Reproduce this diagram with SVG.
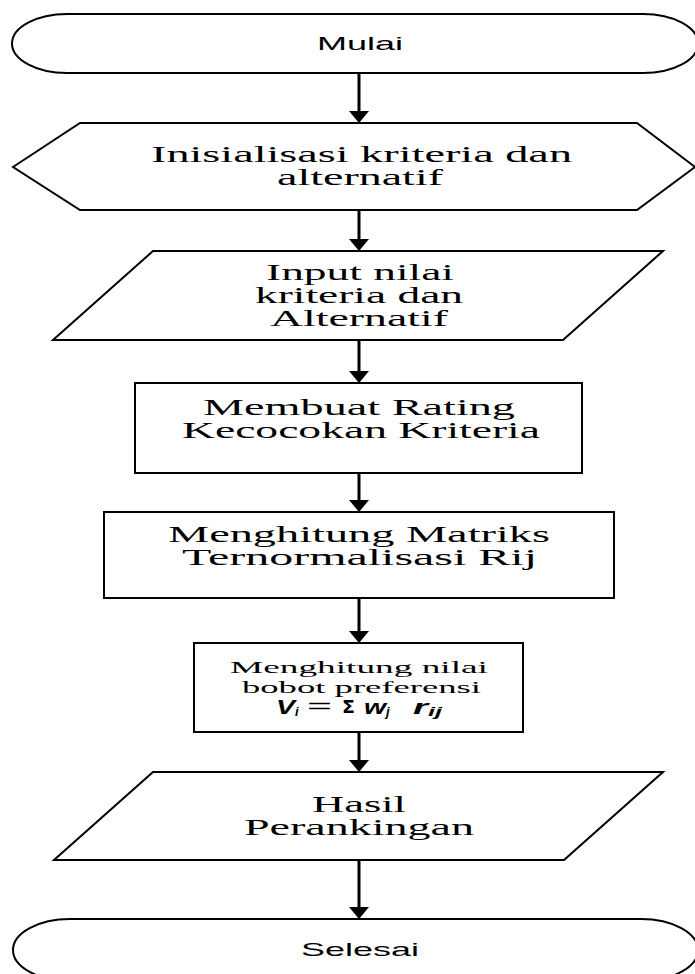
<svg xmlns="http://www.w3.org/2000/svg" width="695" height="974" viewBox="0 0 695 974">
<defs>
<style>
.shape{fill:#fff;stroke:#000;stroke-width:2}
.conn{stroke:#000;stroke-width:3;fill:none}
.head{fill:#000}
.serif{font-family:"Liberation Serif","Times New Roman",serif;font-size:23px;fill:#000}
.small{font-family:"Liberation Serif","Times New Roman",serif;font-size:17px;fill:#000}
.sans{font-family:"Liberation Sans",Arial,sans-serif;font-size:19px;fill:#000}
.math{font-family:"Liberation Sans",Arial,sans-serif;font-weight:bold;font-style:italic;fill:#000}
</style>
</defs>
<rect width="695" height="974" fill="#fff"/>
<g id="connectors">
<line class="conn" x1="359" y1="73" x2="359" y2="112"/>
<polygon class="head" points="349,111 369,111 359,123"/>
<line class="conn" x1="359" y1="211" x2="359" y2="240"/>
<polygon class="head" points="349,239 369,239 359,251"/>
<line class="conn" x1="359" y1="340" x2="359" y2="372"/>
<polygon class="head" points="349,371 369,371 359,383"/>
<line class="conn" x1="359" y1="473" x2="359" y2="501"/>
<polygon class="head" points="349,500 369,500 359,512"/>
<line class="conn" x1="359" y1="598" x2="359" y2="632"/>
<polygon class="head" points="349,631 369,631 359,643"/>
<line class="conn" x1="359" y1="732" x2="359" y2="761"/>
<polygon class="head" points="349,760 369,760 359,772"/>
<line class="conn" x1="359" y1="860" x2="359" y2="908"/>
<polygon class="head" points="349,907 369,907 359,919"/>
</g>
<g id="start">
<rect class="shape" x="12" y="14" width="686" height="59" rx="55" ry="29.5"/>
<text class="sans" x="317" y="50" textLength="86" lengthAdjust="spacingAndGlyphs">Mulai</text>
</g>
<g id="init">
<polygon class="shape" points="13,167 80,123 637,123 695,167 637,210 80,210"/>
<text class="serif" x="151" y="162" textLength="421" lengthAdjust="spacingAndGlyphs">Inisialisasi kriteria dan</text>
<text class="serif" x="277" y="185" textLength="166" lengthAdjust="spacingAndGlyphs">alternatif</text>
</g>
<g id="input">
<polygon class="shape" points="153,251 663,251 563,340 53,340"/>
<text class="serif" x="266" y="280" textLength="188" lengthAdjust="spacingAndGlyphs">Input nilai</text>
<text class="serif" x="255" y="303" textLength="208" lengthAdjust="spacingAndGlyphs">kriteria dan</text>
<text class="serif" x="270" y="326" textLength="178" lengthAdjust="spacingAndGlyphs">Alternatif</text>
</g>
<g id="rating">
<rect class="shape" x="135" y="383" width="447" height="90"/>
<text class="serif" x="203" y="415" textLength="312" lengthAdjust="spacingAndGlyphs">Membuat Rating</text>
<text class="serif" x="182" y="438" textLength="358" lengthAdjust="spacingAndGlyphs">Kecocokan Kriteria</text>
</g>
<g id="normalisasi">
<rect class="shape" x="104" y="512" width="510" height="86"/>
<text class="serif" x="168" y="542" textLength="382" lengthAdjust="spacingAndGlyphs">Menghitung Matriks</text>
<text class="serif" x="182" y="565" textLength="355" lengthAdjust="spacingAndGlyphs">Ternormalisasi Rij</text>
</g>
<g id="preferensi">
<rect class="shape" x="194" y="643" width="329" height="89"/>
<text class="small" x="230" y="673" textLength="258" lengthAdjust="spacingAndGlyphs">Menghitung nilai</text>
<text class="small" x="242" y="693" textLength="239" lengthAdjust="spacingAndGlyphs">bobot preferensi</text>
<text class="math" font-size="20" x="276" y="714" textLength="19" lengthAdjust="spacingAndGlyphs">V</text>
<text class="math" font-size="13" x="295" y="716">i</text>
<text font-family="Liberation Sans,Arial,sans-serif" font-size="20" x="307" y="713" textLength="25" lengthAdjust="spacingAndGlyphs">=</text>
<text font-family="DejaVu Sans,sans-serif" font-weight="bold" font-size="17" x="342" y="713" textLength="13" lengthAdjust="spacingAndGlyphs">Σ</text>
<text class="math" font-size="20" x="364" y="714" textLength="22" lengthAdjust="spacingAndGlyphs">w</text>
<text class="math" font-size="13" x="386" y="716">j</text>
<text class="math" font-size="20" x="413" y="714" textLength="15" lengthAdjust="spacingAndGlyphs">r</text>
<text class="math" font-size="13" x="428" y="716" textLength="14" lengthAdjust="spacingAndGlyphs">ij</text>
</g>
<g id="hasil">
<polygon class="shape" points="153,772 663,772 564,860 54,860"/>
<text class="serif" x="312" y="812" textLength="94" lengthAdjust="spacingAndGlyphs">Hasil</text>
<text class="serif" x="244" y="835" textLength="230" lengthAdjust="spacingAndGlyphs">Perankingan</text>
</g>
<g id="end">
<rect class="shape" x="13" y="919" width="685" height="62" rx="57" ry="31"/>
<text class="sans" x="301" y="956" textLength="118" lengthAdjust="spacingAndGlyphs">Selesai</text>
</g>
</svg>
